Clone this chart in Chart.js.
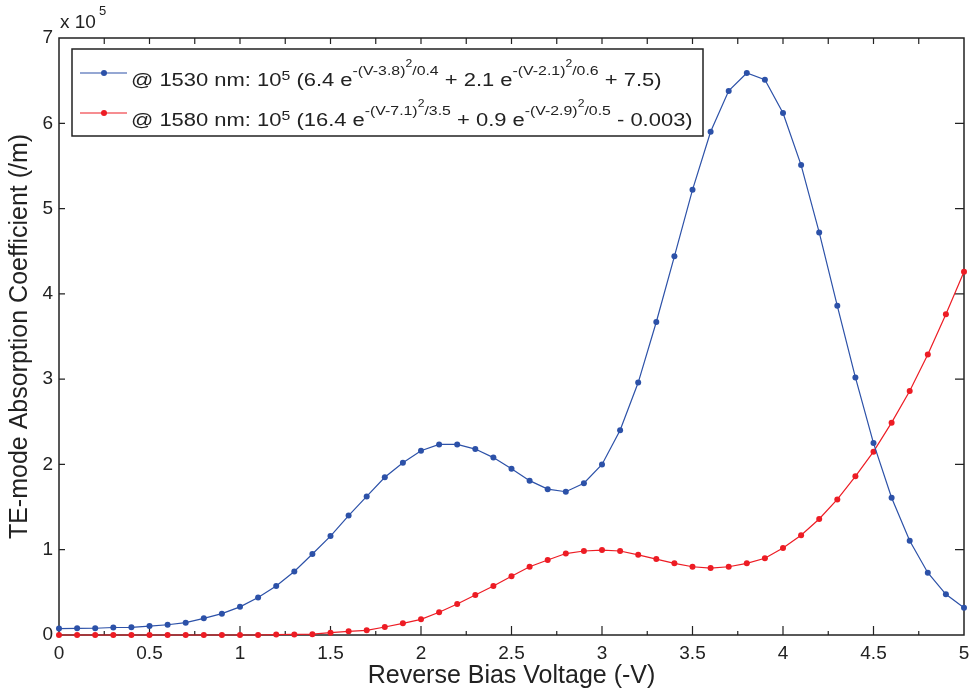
<!DOCTYPE html>
<html>
<head>
<meta charset="utf-8">
<script src="https://cdn.jsdelivr.net/npm/chart.js@4.4.1/dist/chart.umd.min.js"></script>
<style>
  html, body { margin: 0; background: #fff; }
</style>
</head>
<body>
<canvas id="absChart" width="970" height="696"></canvas>
<script>
// reverse bias voltage (-V)
const voltage = [
  0, 0.1, 0.2, 0.3, 0.4, 0.5, 0.6, 0.7, 0.8, 0.9,
  1.0, 1.1, 1.2, 1.3, 1.4, 1.5, 1.6, 1.7, 1.8, 1.9,
  2.0, 2.1, 2.2, 2.3, 2.4, 2.5, 2.6, 2.7, 2.8, 2.9,
  3.0, 3.1, 3.2, 3.3, 3.4, 3.5, 3.6, 3.7, 3.8, 3.9,
  4.0, 4.1, 4.2, 4.3, 4.4, 4.5, 4.6, 4.7, 4.8, 4.9, 5.0
];

// absorption coefficient, in units of 1e5 /m
const te1530 = [
  0.075, 0.078, 0.079, 0.088, 0.090, 0.105, 0.120, 0.145, 0.195, 0.250,
  0.330, 0.440, 0.575, 0.745, 0.950, 1.160, 1.400, 1.625, 1.850, 2.020,
  2.160, 2.235, 2.235, 2.180, 2.080, 1.950, 1.810, 1.710, 1.680, 1.780,
  2.000, 2.400, 2.960, 3.670, 4.440, 5.220, 5.900, 6.380, 6.590, 6.510,
  6.120, 5.510, 4.720, 3.860, 3.020, 2.250, 1.610, 1.105, 0.730, 0.477, 0.320
];

const te1580 = [
  0, 0, 0, 0, 0, 0, 0, 0, 0, 0,
  0, 0, 0.005, 0.007, 0.010, 0.027, 0.043, 0.055, 0.094, 0.137,
  0.184, 0.266, 0.363, 0.469, 0.574, 0.690, 0.800, 0.880, 0.955, 0.985,
  0.996, 0.985, 0.940, 0.890, 0.840, 0.800, 0.785, 0.800, 0.840, 0.900,
  1.020, 1.170, 1.360, 1.590, 1.860, 2.150, 2.490, 2.860, 3.290, 3.760, 4.260
];

const xTicks = [0, 0.5, 1, 1.5, 2, 2.5, 3, 3.5, 4, 4.5, 5];
const yTicks = [0, 1, 2, 3, 4, 5, 6, 7];

const FONT = "'Liberation Sans', Arial, Helvetica, sans-serif";
const INK = '#222';
const BLUE = '#2c51a8';
const RED = '#ed1c24';

// legend rows: [text, font size, raise]
const legendRows = [
  {
    color: BLUE,
    parts: [
      ['@ 1530 nm: 10', 18, 0], ['5', 13, 6], [' (6.4 e', 18, 0],
      ['-(V-3.8)', 13, 11], ['2', 10, 19], ['/0.4', 13, 11],
      [' + 2.1 e', 18, 0], ['-(V-2.1)', 13, 11], ['2', 10, 19], ['/0.6', 13, 11],
      [' + 7.5)', 18, 0]
    ]
  },
  {
    color: RED,
    parts: [
      ['@ 1580 nm: 10', 18, 0], ['5', 13, 6], [' (16.4 e', 18, 0],
      ['-(V-7.1)', 13, 11], ['2', 10, 19], ['/3.5', 13, 11],
      [' + 0.9 e', 18, 0], ['-(V-2.9)', 13, 11], ['2', 10, 19], ['/0.5', 13, 11],
      [' - 0.003)', 18, 0]
    ]
  }
];

function toPoints(ys) {
  return voltage.map((v, i) => ({ x: v, y: ys[i] }));
}

// draws text runs with superscripts, stretched a bit wider like the original export
function drawRich(ctx, x, y, parts, stretch) {
  ctx.save();
  ctx.translate(x, y);
  ctx.scale(stretch, 1);
  ctx.textBaseline = 'alphabetic';
  ctx.textAlign = 'left';
  let cx = 0;
  parts.forEach(([text, size, raise]) => {
    ctx.font = size + 'px ' + FONT;
    ctx.fillText(text, cx, -raise);
    cx += ctx.measureText(text).width;
  });
  ctx.restore();
  return x + cx * stretch;
}

// box round the plot and inward tick marks, matlab style
const framePlugin = {
  id: 'frame',
  beforeDatasetsDraw(chart) {
    const { ctx, chartArea: a, scales: { x, y } } = chart;
    ctx.save();
    ctx.strokeStyle = INK;
    ctx.lineWidth = 1.5;
    ctx.strokeRect(a.left, a.top, a.right - a.left, a.bottom - a.top);
    ctx.lineWidth = 1.2;
    ctx.beginPath();
    for (let v = 0.25; v < 5; v += 0.25) {
      const px = x.getPixelForValue(v);
      const major = Math.abs(v * 2 - Math.round(v * 2)) < 1e-6;
      ctx.moveTo(px, a.bottom);
      ctx.lineTo(px, a.bottom - (major ? 9 : 4));
      ctx.moveTo(px, a.top);
      ctx.lineTo(px, a.top + 6);
    }
    yTicks.slice(1, -1).forEach(t => {
      const py = y.getPixelForValue(t);
      ctx.moveTo(a.left, py);
      ctx.lineTo(a.left + 6, py);
      ctx.moveTo(a.right, py);
      ctx.lineTo(a.right - 9, py);
    });
    ctx.stroke();
    ctx.restore();
  },
  afterDraw(chart) {
    const { ctx, chartArea: a } = chart;
    ctx.save();
    ctx.fillStyle = INK;
    // axis multiplier
    const end = drawRich(ctx, a.left + 1, 28, [['x 10', 19, 0]], 1);
    drawRich(ctx, end + 3, 28, [['5', 13, 13]], 1);

    // legend box
    const box = { left: 72, top: 49, right: 703, bottom: 136 };
    ctx.fillStyle = '#fff';
    ctx.fillRect(box.left, box.top, box.right - box.left, box.bottom - box.top);
    ctx.strokeStyle = INK;
    ctx.lineWidth = 1.5;
    ctx.strokeRect(box.left, box.top, box.right - box.left, box.bottom - box.top);

    legendRows.forEach((row, i) => {
      const cy = 73 + i * 40;
      ctx.strokeStyle = row.color;
      ctx.lineWidth = 1.2;
      ctx.beginPath();
      ctx.moveTo(80, cy);
      ctx.lineTo(127, cy);
      ctx.stroke();
      ctx.fillStyle = row.color;
      ctx.beginPath();
      ctx.arc(104, cy, 3, 0, Math.PI * 2);
      ctx.fill();
      ctx.fillStyle = INK;
      drawRich(ctx, 131, cy + 13, row.parts, 1.22);
    });
    ctx.restore();
  }
};

const ctx = document.getElementById('absChart').getContext('2d');
new Chart(ctx, {
  type: 'line',
  data: {
    datasets: [
      {
        label: '@ 1530 nm',
        data: toPoints(te1530),
        borderColor: BLUE,
        backgroundColor: BLUE,
        borderWidth: 1.2,
        pointRadius: 3,
        pointBorderWidth: 0,
        tension: 0,
        clip: false
      },
      {
        label: '@ 1580 nm',
        data: toPoints(te1580),
        borderColor: RED,
        backgroundColor: RED,
        borderWidth: 1.2,
        pointRadius: 3,
        pointBorderWidth: 0,
        tension: 0,
        clip: false
      }
    ]
  },
  options: {
    responsive: false,
    animation: false,
    devicePixelRatio: 1,
    layout: { padding: { top: 38, right: 6, left: 0, bottom: 0 } },
    plugins: {
      legend: { display: false },
      tooltip: { enabled: false }
    },
    scales: {
      x: {
        type: 'linear',
        min: 0,
        max: 5,
        afterBuildTicks: scale => { scale.ticks = xTicks.map(v => ({ value: v })); },
        afterFit: scale => {
          scale.height = 61;
          scale.paddingLeft = 0;
          scale.paddingRight = 0;
        },
        grid: { display: false, drawTicks: false },
        border: { display: false },
        ticks: {
          padding: 7,
          maxRotation: 0,
          color: INK,
          font: { family: FONT, size: 19 },
          callback: v => String(v)
        },
        title: {
          display: true,
          text: 'Reverse Bias Voltage (-V)',
          color: INK,
          font: { family: FONT, size: 25 },
          padding: { top: 0, bottom: 5 }
        }
      },
      y: {
        type: 'linear',
        min: 0,
        max: 7,
        afterBuildTicks: scale => { scale.ticks = yTicks.map(v => ({ value: v })); },
        afterFit: scale => { scale.width = 59; },
        grid: { display: false, drawTicks: false },
        border: { display: false },
        ticks: {
          padding: 6,
          color: INK,
          font: { family: FONT, size: 19 },
          callback: v => String(v)
        },
        title: {
          display: true,
          text: 'TE-mode Absorption Coefficient (/m)',
          color: INK,
          font: { family: FONT, size: 25 },
          padding: { top: 5, bottom: 0 }
        }
      }
    }
  },
  plugins: [framePlugin]
});
</script>
</body>
</html>
